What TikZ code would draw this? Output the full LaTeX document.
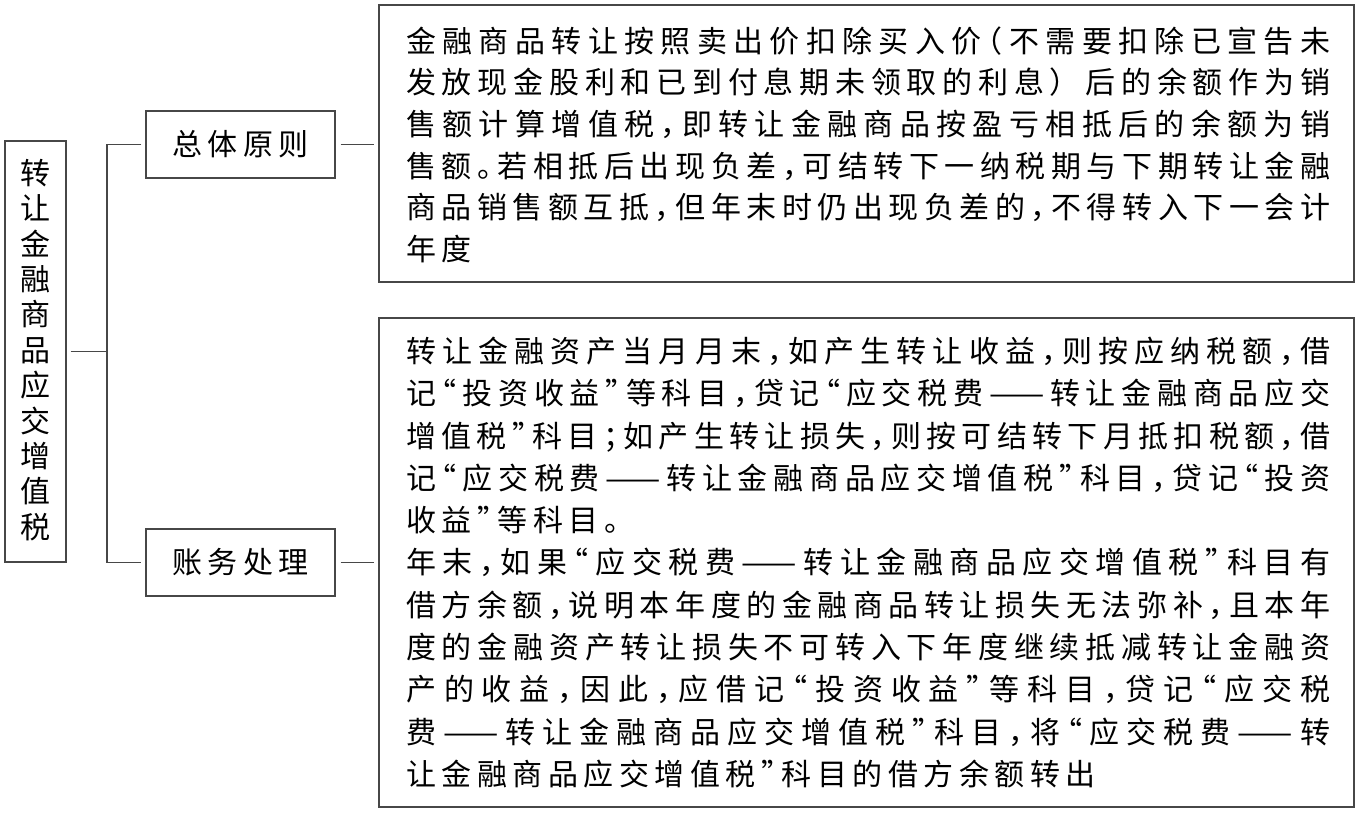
\documentclass[tikz,border=0pt]{standalone}
\usepackage{fontspec}
\setmainfont{Noto Sans CJK SC}
\usepackage{graphicx}
\makeatletter
\newdimen\jlwidth \jlwidth=924pt
\newdimen\flgap \flgap=5.5pt
\def\jl@end{\jl@end}
\def\jl@endm{\jl@end}
\def\jl@first#1{#1\jl@rest}
\def\jl@rest#1{\def\jl@tmp{#1}\ifx\jl@tmp\jl@endm\else\jl@sep#1\expandafter\jl@rest\fi}
\newcommand\jline[1]{\hbox to \jlwidth{\let\jl@sep\hfil\jl@first#1\jl@end}}
\newcommand\fline[1]{\hbox{\def\jl@sep{\kern\flgap}\jl@first#1\jl@end}}
\makeatother
\newcommand\hc{\makebox[0.5em][l]{，}}
\newcommand\hd{\makebox[0.5em][l]{。}}
\newcommand\hs{\makebox[0.5em][l]{；}}
\newcommand\hq{\makebox[0.5em][r]{“}}
\newcommand\hQ{\makebox[0.5em][l]{”}}
\newcommand\hp{\makebox[0.5em][r]{（}}
\newcommand\dd{\scalebox{1.1}[1]{——}}
\begin{document}
\begin{tikzpicture}[x=1pt,y=-1pt,
  frame/.style={draw=black!72, line width=1.3pt, rectangle, inner sep=0pt},
  conn/.style={draw=black!72, line width=1.3pt},
  txt/.style={inner sep=0pt, font=\fontsize{30pt}{36pt}\selectfont}]
\useasboundingbox[fill=white] (0,0) rectangle (1361,813);
% boxes
\node[frame, minimum width=61pt, minimum height=421pt] (L) at (35.5,351.5) {};
\node[frame, minimum width=189pt, minimum height=67pt, txt] (A) at (240.5,144.5) {\fline{总体原则}};
\node[frame, minimum width=189pt, minimum height=67pt, txt] (B) at (240.5,562.5) {\fline{账务处理}};
\node[frame, minimum width=975pt, minimum height=277pt] (T1) at (866.5,143.5) {};
\node[frame, minimum width=975pt, minimum height=489pt] (T2) at (866.5,562.5) {};
% vertical title
\node[txt, anchor=base] (Lt) at (35.5,184.4) {\vtop{\baselineskip=35.4pt\lineskiplimit=-100pt
  \hbox{转}\hbox{让}\hbox{金}\hbox{融}\hbox{商}\hbox{品}\hbox{应}\hbox{交}\hbox{增}\hbox{值}\hbox{税}}};
% text of box 1
\node[txt, anchor=base west] (T1t) at (406,52.4) {\vtop{\baselineskip=41.6pt\lineskiplimit=-100pt
  \jline{金融商品转让按照卖出价扣除买入价\hp 不需要扣除已宣告未}
  \jline{发放现金股利和已到付息期未领取的利息）后的余额作为销}
  \jline{售额计算增值税\hc 即转让金融商品按盈亏相抵后的余额为销}
  \jline{售额\hd 若相抵后出现负差\hc 可结转下一纳税期与下期转让金融}
  \jline{商品销售额互抵\hc 但年末时仍出现负差的\hc 不得转入下一会计}
  \fline{年度}}};
% text of box 2
\node[txt, anchor=base west] (T2t) at (406,362.4) {\vtop{\baselineskip=42.3pt\lineskiplimit=-100pt
  \jline{转让金融资产当月月末\hc 如产生转让收益\hc 则按应纳税额\hc 借}
  \jline{记\hq 投资收益\hQ 等科目\hc 贷记\hq 应交税费\dd 转让金融商品应交}
  \jline{增值税\hQ 科目\hs 如产生转让损失\hc 则按可结转下月抵扣税额\hc 借}
  \jline{记\hq 应交税费\dd 转让金融商品应交增值税\hQ 科目\hc 贷记\hq 投资}
  \fline{收益\hQ 等科目。}
  \jline{年末\hc 如果\hq 应交税费\dd 转让金融商品应交增值税\hQ 科目有}
  \jline{借方余额\hc 说明本年度的金融商品转让损失无法弥补\hc 且本年}
  \jline{度的金融资产转让损失不可转入下年度继续抵减转让金融资}
  \jline{产的收益\hc 因此\hc 应借记\hq 投资收益\hQ 等科目\hc 贷记\hq 应交税}
  \jline{费\dd 转让金融商品应交增值税\hQ 科目\hc 将\hq 应交税费\dd 转}
  \fline{让金融商品应交增值税\hQ 科目的借方余额转出}}};
% connectors
\coordinate (jt) at (107,144.5);
\coordinate (jb) at (107,562.5);
\draw[conn, shorten <=4pt, shorten >=4pt] (A.west) -- (jt) -- (jb) -- (B.west);
\draw[conn, shorten <=4pt] (L.east) -- (L.east -| jt);
\draw[conn, shorten <=5pt, shorten >=4pt] (A.east) -- (T1.west |- A.east);
\draw[conn, shorten <=5pt, shorten >=4pt] (B.east) -- (T2.west |- B.east);
\end{tikzpicture}
\end{document}
